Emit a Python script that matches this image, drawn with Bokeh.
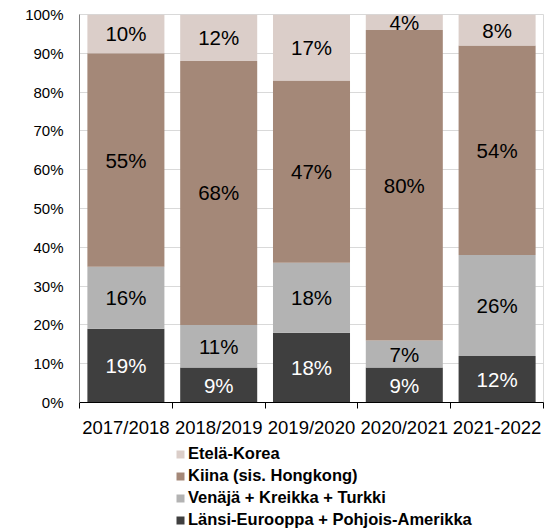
from bokeh.plotting import figure
from bokeh.layouts import column
from bokeh.models import (ColumnDataSource, Range1d, FixedTicker, Legend, LegendItem,
                          NumeralTickFormatter)
from bokeh.core.properties import value
from bokeh.embed import file_html
from bokeh.resources import INLINE

categories = ["2017/2018", "2018/2019", "2019/2020", "2020/2021", "2021-2022"]
series_names = ["Länsi-Eurooppa + Pohjois-Amerikka", "Venäjä + Kreikka + Turkki",
                "Kiina (sis. Hongkong)", "Etelä-Korea"]
lansi = [19, 9, 18, 9, 12]
venaja = [16, 11, 18, 7, 26]
kiina = [55, 68, 47, 80, 54]
korea = [10, 12, 17, 4, 8]
colors = ["#3f3f3f", "#b3b3b3", "#a48878", "#dbcec9"]
label_colors = ["white", "black", "black", "black"]

FONT = "Liberation Sans"

xs = [i + 0.5 for i in range(len(categories))]
keys = ["s0", "s1", "s2", "s3"]
data = {"x": xs}
for k, vals in zip(keys, [lansi, venaja, kiina, korea]):
    data[k] = [v / 100 for v in vals]
src = ColumnDataSource(data)

p = figure(width=548, height=440, output_backend="svg", toolbar_location=None,
           x_range=Range1d(0, 5), y_range=Range1d(0, 1),
           min_border_left=79, min_border_right=5, min_border_top=14, min_border_bottom=37)
p.outline_line_color = "#d9d9d9"
p.background_fill_color = "white"

rs = p.vbar_stack(keys, x="x", width=0.83, color=colors, line_color=None, source=src)

# labels
all_series = [lansi, venaja, kiina, korea]
for i, vals in enumerate(all_series):
    lx, ly, lt = [], [], []
    for j, v in enumerate(vals):
        base = sum(s[j] for s in all_series[:i])
        lx.append(xs[j])
        ly.append((base + v / 2) / 100)
        lt.append(f"{v}%")
    p.text(x=lx, y=ly, text=lt, text_align="center", text_baseline="middle",
           text_font=value(FONT), text_font_size="20.5px", text_color=label_colors[i])

# axes
p.xaxis.ticker = FixedTicker(ticks=xs, minor_ticks=[0, 1, 2, 3, 4, 5])
p.xaxis.major_label_overrides = {x: c for x, c in zip(xs, categories)}
p.xaxis.major_tick_out = 0
p.xaxis.major_tick_in = 0
p.xaxis.minor_tick_out = 6
p.xaxis.minor_tick_in = 0
p.xaxis.minor_tick_line_color = "black"
p.xaxis.axis_line_color = "black"
p.xaxis.major_label_text_font = FONT
p.xaxis.major_label_text_font_size = "18.5px"
p.xaxis.major_label_text_color = "black"
p.xaxis.major_label_standoff = 8
p.xgrid.grid_line_color = None

p.yaxis.ticker = FixedTicker(ticks=[i / 10 for i in range(11)], minor_ticks=[])
p.yaxis.formatter = NumeralTickFormatter(format="0%")
p.yaxis.major_tick_out = 0
p.yaxis.major_tick_in = 0
p.yaxis.minor_tick_line_color = None
p.yaxis.axis_line_color = "#808080"
p.yaxis.major_label_text_font = FONT
p.yaxis.major_label_text_font_size = "15px"
p.yaxis.major_label_text_color = "black"
p.yaxis.major_label_standoff = 16
p.ygrid.grid_line_color = "#d9d9d9"
p.ygrid.grid_line_width = 1

# legend figure
lf = figure(width=548, height=89, output_backend="svg", toolbar_location=None,
            x_range=Range1d(0, 1), y_range=Range1d(0, 1),
            min_border_left=79, min_border_right=5, min_border_top=0, min_border_bottom=0)
lf.axis.visible = False
lf.grid.visible = False
lf.outline_line_color = None
dummies = [lf.vbar(x=[-10], top=[-10], bottom=[-11], width=0.1, color=c, line_color=None)
           for c in colors]
items = [LegendItem(label=series_names[i], renderers=[dummies[i]]) for i in [3, 2, 1, 0]]
legend = Legend(items=items, location=(96, 0), orientation="vertical",
                border_line_color=None, background_fill_alpha=0,
                label_text_font=FONT, label_text_font_size="16.5px",
                label_text_font_style="bold", label_text_color="black",
                glyph_width=10, glyph_height=10, label_standoff=3,
                label_height=18, spacing=3, padding=2, margin=0)
lf.add_layout(legend, "center")

layout = column(p, lf, spacing=0)
open("out.html", "w").write(file_html(layout, INLINE))
